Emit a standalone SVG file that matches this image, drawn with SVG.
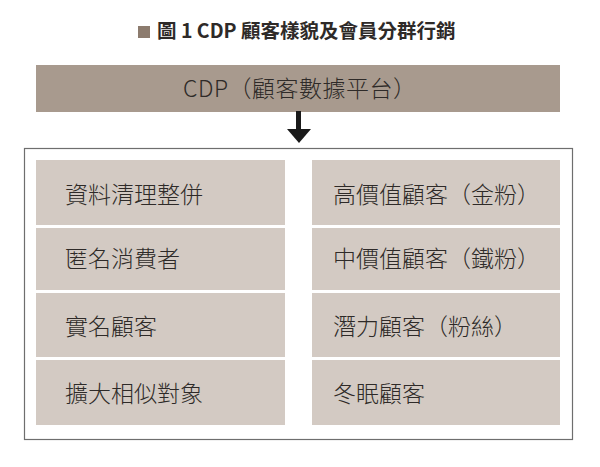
<svg xmlns="http://www.w3.org/2000/svg" width="600" height="467" viewBox="0 0 600 467">
<style>
.t{font-family:"Noto Sans CJK TC","Liberation Sans",sans-serif;fill:#2e2a28}
.cell{fill:#d3cac3}
.lbl{font-size:23px;font-weight:300}
</style>
<rect width="600" height="467" fill="#ffffff"/>
<g id="title">
<rect x="138" y="26" width="12" height="12" fill="#8c7b6e"/>
<text class="t" x="157" y="38" font-size="19.5" font-weight="bold">圖 1 CDP 顧客樣貌及會員分群行銷</text>
</g>
<g id="cdp">
<rect x="36" y="65" width="524" height="47" fill="#a89a8e"/>
<text class="t" x="183" y="97" font-size="23" font-weight="300" letter-spacing="0.5">CDP（顧客數據平台）</text>
</g>
<g id="connectors">
<rect x="296" y="111" width="5" height="19" fill="#1a1a1a"/>
<polygon points="287,129 311,129 299,143" fill="#1a1a1a"/>
</g>
<g id="container">
<rect x="24.5" y="148.5" width="548" height="291" fill="#ffffff" stroke="#6e6e6e" stroke-width="1.2"/>
</g>
<g id="n1"><rect class="cell" x="36" y="160" width="249" height="65"/><text class="t lbl" x="65" y="203">資料清理整併</text></g>
<g id="n2"><rect class="cell" x="36" y="228" width="249" height="62"/><text class="t lbl" x="65" y="267">匿名消費者</text></g>
<g id="n3"><rect class="cell" x="36" y="293" width="249" height="64"/><text class="t lbl" x="65" y="335">實名顧客</text></g>
<g id="n4"><rect class="cell" x="36" y="360" width="249" height="65"/><text class="t lbl" x="65" y="402">擴大相似對象</text></g>
<g id="n5"><rect class="cell" x="312" y="160" width="248" height="65"/><text class="t lbl" x="333" y="203">高價值顧客（金粉）</text></g>
<g id="n6"><rect class="cell" x="312" y="228" width="248" height="62"/><text class="t lbl" x="333" y="267">中價值顧客（鐵粉）</text></g>
<g id="n7"><rect class="cell" x="312" y="293" width="248" height="64"/><text class="t lbl" x="333" y="335">潛力顧客（粉絲）</text></g>
<g id="n8"><rect class="cell" x="312" y="360" width="248" height="65"/><text class="t lbl" x="333" y="402">冬眠顧客</text></g>
</svg>
